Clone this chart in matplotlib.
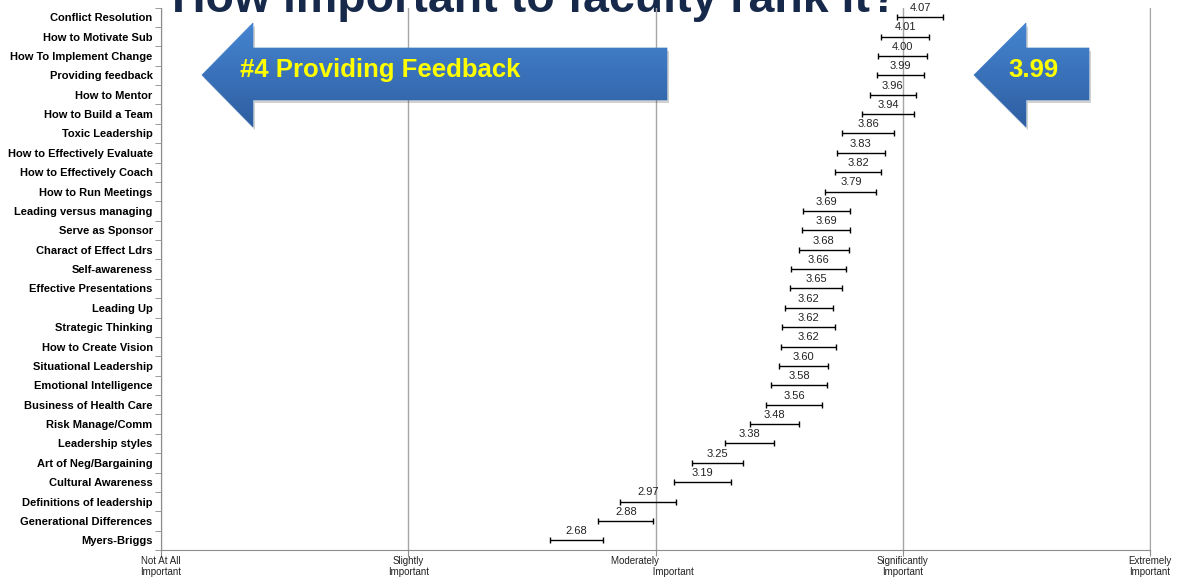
import matplotlib.pyplot as plt
import numpy as np
from matplotlib.patches import Polygon

plt.rcParams['font.family'] = ['Liberation Sans', 'DejaVu Sans']

categories = ['Conflict Resolution', 'How to Motivate Sub', 'How To Implement Change',
              'Providing feedback', 'How to Mentor', 'How to Build a Team', 'Toxic Leadership',
              'How to Effectively Evaluate', 'How to Effectively Coach', 'How to Run Meetings',
              'Leading versus managing', 'Serve as Sponsor', 'Charact of Effect Ldrs',
              'Self-awareness', 'Effective Presentations', 'Leading Up', 'Strategic Thinking',
              'How to Create Vision', 'Situational Leadership', 'Emotional Intelligence',
              'Business of Health Care', 'Risk Manage/Comm', 'Leadership styles',
              'Art of Neg/Bargaining', 'Cultural Awareness', 'Definitions of leadership',
              'Generational Differences', 'Myers-Briggs']
means = [4.07, 4.01, 4.00, 3.99, 3.96, 3.94, 3.86, 3.83, 3.82, 3.79, 3.69, 3.69, 3.68, 3.66,
         3.65, 3.62, 3.62, 3.62, 3.60, 3.58, 3.56, 3.48, 3.38, 3.25, 3.19, 2.97, 2.88, 2.68]
errors = [0.093, 0.097, 0.099, 0.095, 0.093, 0.105, 0.105, 0.097, 0.093, 0.103, 0.095, 0.097,
          0.101, 0.111, 0.105, 0.097, 0.107, 0.111, 0.099, 0.113, 0.113, 0.099, 0.099, 0.103,
          0.115, 0.113, 0.111, 0.107]
scale_values = [1, 2, 3, 4, 5]
scale_labels = ['Not At All\nImportant', 'Slightly\nImportant',
                'Moderately' + ' ' * 15 + '\n' + ' ' * 13 + 'Important',
                'Significantly\nImportant', 'Extremely\nImportant']

W, H = 1179, 577
fig = plt.figure(figsize=(W / 100, H / 100), dpi=100)

# title sits behind the chart, its top is cut by the canvas edge as in the original
fig.text(172 / W, 1 - 12.5 / H, 'How important to faculty rank it?', fontsize=33.5,
         fontweight='bold', color='#17294A', ha='left', va='baseline', zorder=-1)

ax = fig.add_axes([161 / W, 1 - 550 / H, (1150 - 161) / W, (550 - 7.5) / H])
ax.patch.set_alpha(0)

ypos = np.arange(len(categories))
ax.errorbar(means, ypos, xerr=errors, fmt='none', ecolor='black',
            elinewidth=1.0, capsize=2.5, capthick=1.0, zorder=3)
for m, y in zip(means, ypos):
    ax.annotate(f'{m:.2f}', (m, y), xytext=(0, 3), textcoords='offset points',
                ha='center', va='bottom', fontsize=8, color='#222222')

ax.set_xlim(1, 5)
ax.set_ylim(len(categories) - 0.5, -0.5)
ax.set_xticks(scale_values)
ax.set_xticklabels(scale_labels, fontsize=7, color='#222222', linespacing=1.1)
ax.set_yticks(ypos)
ax.set_yticklabels(categories, fontsize=8, fontweight='bold')
ax.set_yticks(np.arange(len(categories) + 1) - 0.5, minor=True)
ax.tick_params(axis='y', which='major', length=0, pad=6)
ax.tick_params(axis='y', which='minor', length=4, color='#8C8C8C')
ax.tick_params(axis='x', length=4, color='#8C8C8C', pad=0.5)
ax.grid(axis='x', color='#A6A6A6', linewidth=1)
ax.set_axisbelow(True)
ax.spines['top'].set_visible(False)
ax.spines['right'].set_color('#A6A6A6')
for s in ['left', 'bottom']:
    ax.spines[s].set_color('#8C8C8C')

# overlay in pixel coordinates for the callout arrows
ov = fig.add_axes([0, 0, 1, 1], zorder=5)
ov.set_xlim(0, W)
ov.set_ylim(H, 0)
ov.axis('off')

grad = np.linspace(0, 1, 100)[:, None, None]
top_c = np.array([0.27, 0.52, 0.82])
bot_c = np.array([0.18, 0.37, 0.63])
img = top_c * (1 - grad) + bot_c * grad


def arrow(tip_x, neck_x, end_x, cy):
    pts = [(tip_x, cy), (neck_x, cy - 52), (neck_x, cy - 27), (end_x, cy - 27),
           (end_x, cy + 25), (neck_x, cy + 25), (neck_x, cy + 52)]
    shadow = Polygon([(x + 2, y + 3) for x, y in pts], closed=True,
                     facecolor='#000000', alpha=0.18, edgecolor='none')
    ov.add_patch(shadow)
    poly = Polygon(pts, closed=True, facecolor='none', edgecolor='#5A8FD0', linewidth=0.6)
    ov.add_patch(poly)
    im = ov.imshow(img, extent=(tip_x, end_x, cy + 52, cy - 52), origin='upper',
                   aspect='auto', zorder=1)
    im.set_clip_path(poly)


arrow(202, 253, 667, 75)
arrow(974, 1026, 1089, 75)
ov.text(380, 70.5, '#4 Providing Feedback', fontsize=18.5, fontweight='bold',
        color='#FFFF00', ha='center', va='center', zorder=3)
ov.text(1033, 70, '3.99', fontsize=18.5, fontweight='bold',
        color='#FFFF00', ha='center', va='center', zorder=3)

fig.savefig('out.png', dpi=100)
